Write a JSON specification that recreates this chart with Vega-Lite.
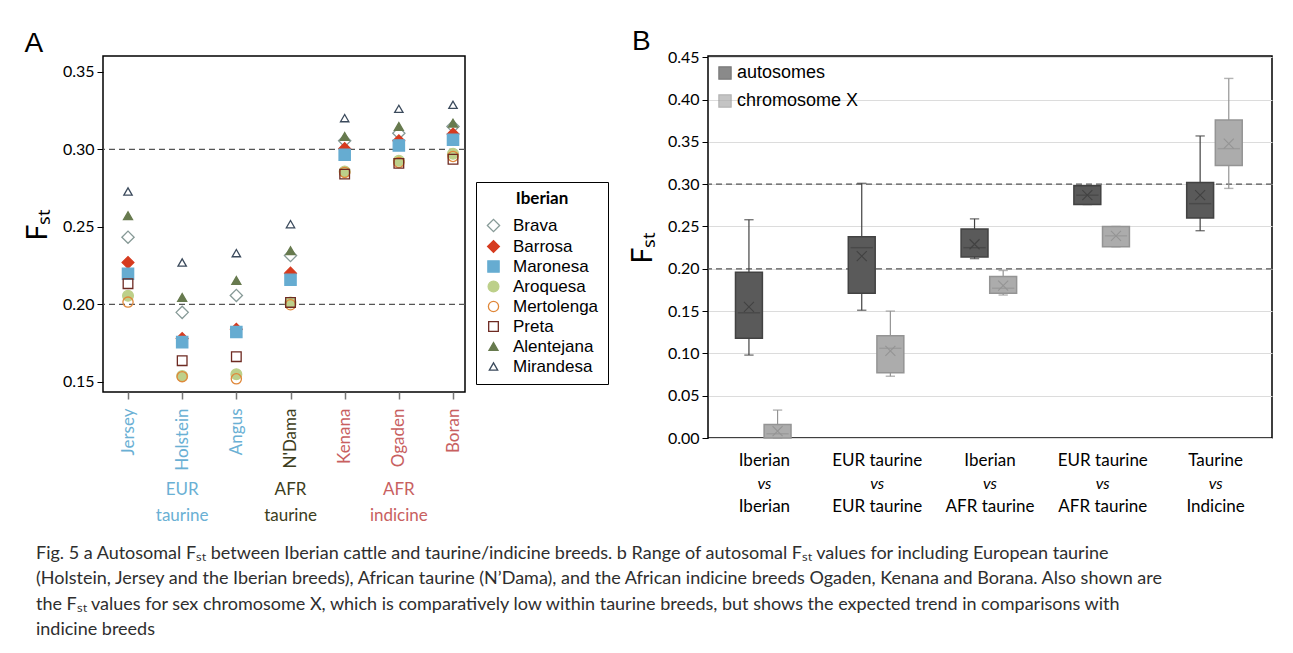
{
  "$schema": "https://vega.github.io/schema/vega-lite/v6.json",
  "background": "white",
  "padding": {"left": 23, "top": 27, "right": 5, "bottom": 5},
  "config": {
    "font": "Lato",
    "view": {"stroke": "black", "strokeWidth": 1.5},
    "axis": {"labelFont": "Lato", "labelFontSize": 16, "tickColor": "black", "domainColor": "black", "titleFont": "Lato", "titleFontWeight": "normal", "titleColor": "black"}
  },
  "datasets": {
    "scatter": [
      {"pop": "Jersey", "breed": "Brava", "fst": 0.2434}, {"pop": "Holstein", "breed": "Brava", "fst": 0.1949}, {"pop": "Angus", "breed": "Brava", "fst": 0.2058}, {"pop": "N'Dama", "breed": "Brava", "fst": 0.2316}, {"pop": "Kenana", "breed": "Brava", "fst": 0.3056}, {"pop": "Ogaden", "breed": "Brava", "fst": 0.3105}, {"pop": "Boran", "breed": "Brava", "fst": 0.3148},
      {"pop": "Jersey", "breed": "Barrosa", "fst": 0.2271}, {"pop": "Holstein", "breed": "Barrosa", "fst": 0.178}, {"pop": "Angus", "breed": "Barrosa", "fst": 0.184}, {"pop": "N'Dama", "breed": "Barrosa", "fst": 0.2202}, {"pop": "Kenana", "breed": "Barrosa", "fst": 0.3005}, {"pop": "Ogaden", "breed": "Barrosa", "fst": 0.3056}, {"pop": "Boran", "breed": "Barrosa", "fst": 0.3099},
      {"pop": "Jersey", "breed": "Maronesa", "fst": 0.2198}, {"pop": "Holstein", "breed": "Maronesa", "fst": 0.1757}, {"pop": "Angus", "breed": "Maronesa", "fst": 0.1822}, {"pop": "N'Dama", "breed": "Maronesa", "fst": 0.2159}, {"pop": "Kenana", "breed": "Maronesa", "fst": 0.2966}, {"pop": "Ogaden", "breed": "Maronesa", "fst": 0.3026}, {"pop": "Boran", "breed": "Maronesa", "fst": 0.3063},
      {"pop": "Jersey", "breed": "Aroquesa", "fst": 0.2056}, {"pop": "Holstein", "breed": "Aroquesa", "fst": 0.1538}, {"pop": "Angus", "breed": "Aroquesa", "fst": 0.155}, {"pop": "N'Dama", "breed": "Aroquesa", "fst": 0.2013}, {"pop": "Kenana", "breed": "Aroquesa", "fst": 0.2858}, {"pop": "Ogaden", "breed": "Aroquesa", "fst": 0.2927}, {"pop": "Boran", "breed": "Aroquesa", "fst": 0.2972},
      {"pop": "Jersey", "breed": "Mertolenga", "fst": 0.2015}, {"pop": "Holstein", "breed": "Mertolenga", "fst": 0.1534}, {"pop": "Angus", "breed": "Mertolenga", "fst": 0.152}, {"pop": "N'Dama", "breed": "Mertolenga", "fst": 0.1998}, {"pop": "Kenana", "breed": "Mertolenga", "fst": 0.2852}, {"pop": "Ogaden", "breed": "Mertolenga", "fst": 0.2916}, {"pop": "Boran", "breed": "Mertolenga", "fst": 0.2955},
      {"pop": "Jersey", "breed": "Preta", "fst": 0.2134}, {"pop": "Holstein", "breed": "Preta", "fst": 0.1637}, {"pop": "Angus", "breed": "Preta", "fst": 0.1663}, {"pop": "N'Dama", "breed": "Preta", "fst": 0.2013}, {"pop": "Kenana", "breed": "Preta", "fst": 0.2841}, {"pop": "Ogaden", "breed": "Preta", "fst": 0.291}, {"pop": "Boran", "breed": "Preta", "fst": 0.2937},
      {"pop": "Jersey", "breed": "Alentejana", "fst": 0.2572}, {"pop": "Holstein", "breed": "Alentejana", "fst": 0.2045}, {"pop": "Angus", "breed": "Alentejana", "fst": 0.2155}, {"pop": "N'Dama", "breed": "Alentejana", "fst": 0.2346}, {"pop": "Kenana", "breed": "Alentejana", "fst": 0.3084}, {"pop": "Ogaden", "breed": "Alentejana", "fst": 0.3148}, {"pop": "Boran", "breed": "Alentejana", "fst": 0.317},
      {"pop": "Jersey", "breed": "Mirandesa", "fst": 0.2729}, {"pop": "Holstein", "breed": "Mirandesa", "fst": 0.2271}, {"pop": "Angus", "breed": "Mirandesa", "fst": 0.2331}, {"pop": "N'Dama", "breed": "Mirandesa", "fst": 0.2518}, {"pop": "Kenana", "breed": "Mirandesa", "fst": 0.3202}, {"pop": "Ogaden", "breed": "Mirandesa", "fst": 0.3262}, {"pop": "Boran", "breed": "Mirandesa", "fst": 0.3288}
    ],
    "agrp": [
      {"pop": "Holstein", "line": 1, "label": "EUR", "grp": "eur"},
      {"pop": "Holstein", "line": 2, "label": "taurine", "grp": "eur"},
      {"pop": "N'Dama", "line": 1, "label": "AFR", "grp": "afrt"},
      {"pop": "N'Dama", "line": 2, "label": "taurine", "grp": "afrt"},
      {"pop": "Ogaden", "line": 1, "label": "AFR", "grp": "afri"},
      {"pop": "Ogaden", "line": 2, "label": "indicine", "grp": "afri"}
    ],
    "box": [
      {"comp": "Iberian vs Iberian", "type": "autosomes", "lo": 0.098, "q1": 0.118, "med": 0.148, "q3": 0.196, "hi": 0.258, "mean": 0.155},
      {"comp": "Iberian vs Iberian", "type": "chromosome X", "lo": 0.0, "q1": 0.0, "med": 0.005, "q3": 0.016, "hi": 0.033, "mean": 0.008},
      {"comp": "EUR taurine vs EUR taurine", "type": "autosomes", "lo": 0.151, "q1": 0.171, "med": 0.225, "q3": 0.238, "hi": 0.301, "mean": 0.215},
      {"comp": "EUR taurine vs EUR taurine", "type": "chromosome X", "lo": 0.073, "q1": 0.077, "med": 0.106, "q3": 0.121, "hi": 0.15, "mean": 0.103},
      {"comp": "Iberian vs AFR taurine", "type": "autosomes", "lo": 0.212, "q1": 0.214, "med": 0.225, "q3": 0.247, "hi": 0.259, "mean": 0.229},
      {"comp": "Iberian vs AFR taurine", "type": "chromosome X", "lo": 0.169, "q1": 0.171, "med": 0.177, "q3": 0.191, "hi": 0.198, "mean": 0.18},
      {"comp": "EUR taurine vs AFR taurine", "type": "autosomes", "lo": 0.276, "q1": 0.276, "med": 0.287, "q3": 0.298, "hi": 0.298, "mean": 0.287},
      {"comp": "EUR taurine vs AFR taurine", "type": "chromosome X", "lo": 0.226, "q1": 0.226, "med": 0.239, "q3": 0.25, "hi": 0.25, "mean": 0.239},
      {"comp": "Taurine vs Indicine", "type": "autosomes", "lo": 0.245, "q1": 0.26, "med": 0.277, "q3": 0.302, "hi": 0.357, "mean": 0.287},
      {"comp": "Taurine vs Indicine", "type": "chromosome X", "lo": 0.295, "q1": 0.322, "med": 0.342, "q3": 0.376, "hi": 0.425, "mean": 0.348}
    ],
    "blab": [
      {"comp": "Iberian vs Iberian", "line": 1, "label": "Iberian"}, {"comp": "Iberian vs Iberian", "line": 2, "label": "vs"}, {"comp": "Iberian vs Iberian", "line": 3, "label": "Iberian"},
      {"comp": "EUR taurine vs EUR taurine", "line": 1, "label": "EUR taurine"}, {"comp": "EUR taurine vs EUR taurine", "line": 2, "label": "vs"}, {"comp": "EUR taurine vs EUR taurine", "line": 3, "label": "EUR taurine"},
      {"comp": "Iberian vs AFR taurine", "line": 1, "label": "Iberian"}, {"comp": "Iberian vs AFR taurine", "line": 2, "label": "vs"}, {"comp": "Iberian vs AFR taurine", "line": 3, "label": "AFR taurine"},
      {"comp": "EUR taurine vs AFR taurine", "line": 1, "label": "EUR taurine"}, {"comp": "EUR taurine vs AFR taurine", "line": 2, "label": "vs"}, {"comp": "EUR taurine vs AFR taurine", "line": 3, "label": "AFR taurine"},
      {"comp": "Taurine vs Indicine", "line": 1, "label": "Taurine"}, {"comp": "Taurine vs Indicine", "line": 2, "label": "vs"}, {"comp": "Taurine vs Indicine", "line": 3, "label": "Indicine"}
    ]
  },
  "title": {
    "text": [
      "Fig. 5 a Autosomal F\u209b\u209c between Iberian cattle and taurine/indicine breeds. b Range of autosomal F\u209b\u209c values for including European taurine",
      "(Holstein, Jersey and the Iberian breeds), African taurine (N’Dama), and the African indicine breeds Ogaden, Kenana and Borana. Also shown are",
      "the F\u209b\u209c values for sex chromosome X, which is comparatively low within taurine breeds, but shows the expected trend in comparisons with",
      "indicine breeds"
    ],
    "orient": "bottom",
    "anchor": "start",
    "frame": "group",
    "font": "Lato",
    "fontSize": 18,
    "fontWeight": "normal",
    "color": "#2e2e2e",
    "lineHeight": 25.3,
    "offset": 16,
    "dx": -67
  },
  "resolve": {"scale": {"x": "independent", "y": "independent", "fill": "independent", "stroke": "independent", "color": "independent", "shape": "independent", "size": "independent"}},
  "vconcat": [
    {
      "hconcat": [
        {
          "spacing": 5,
          "resolve": {"scale": {"x": "independent", "y": "independent"}},
          "vconcat": [
            {
              "title": {"text": "A", "anchor": "start", "frame": "bounds", "fontSize": 28, "font": "Liberation Sans", "fontWeight": "normal", "offset": -2, "color": "black"},
              "width": 362,
              "height": 336,
              "layer": [
                {
                  "data": {"values": [{"ref": 0.2}, {"ref": 0.3}]},
                  "mark": {"type": "rule", "strokeDash": [6, 4], "color": "#555555", "strokeWidth": 1.3},
                  "encoding": {"y": {"field": "ref", "type": "quantitative",
                    "scale": {"domain": [0.1435, 0.3603], "nice": false, "zero": false},
                    "axis": {"values": [0.15, 0.2, 0.25, 0.3, 0.35], "format": ".2f", "grid": false, "title": "F\u209b\u209c", "titleFontSize": 28, "titlePadding": 10, "tickSize": 6, "labelPadding": 3, "domain": false, "labelColor": "black"}}}
                },
                {
                  "data": {"name": "scatter"},
                  "mark": {"type": "point", "filled": true, "strokeWidth": 1.3, "opacity": 1},
                  "encoding": {
                    "x": {
                      "field": "pop", "type": "nominal",
                      "scale": {"type": "point", "domain": ["Jersey", "Holstein", "Angus", "N'Dama", "Kenana", "Ogaden", "Boran"], "padding": 0.3415, "align": 0.676},
                      "axis": {"title": null, "labelAngle": -90, "labelFontSize": 17, "tickColor": "#777777", "tickWidth": 1.5, "tickSize": 7, "labelPadding": 9, "domain": false,
                        "labelColor": {"condition": [{"test": "indexof(datum.value, 'Dama') >= 0", "value": "#3d3d20"}, {"test": "datum.value == 'Jersey' || datum.value == 'Holstein' || datum.value == 'Angus'", "value": "#6ab0d4"}], "value": "#c8605f"}}
                    },
                    "y": {
                      "field": "fst", "type": "quantitative",
                      "axis": {"values": [0.15, 0.2, 0.25, 0.3, 0.35], "format": ".2f", "grid": false, "title": "F\u209b\u209c", "titleFontSize": 28, "titlePadding": 10, "tickSize": 6, "labelPadding": 3, "domain": false, "labelColor": "black"}
                    },
                    "shape": {"field": "breed", "type": "nominal",
                      "scale": {"domain": ["Brava", "Barrosa", "Maronesa", "Aroquesa", "Mertolenga", "Preta", "Alentejana", "Mirandesa"], "range": ["diamond", "diamond", "square", "circle", "circle", "square", "triangle-up", "triangle-up"]},
                      "legend": {"title": "Iberian", "orient": "none", "legendX": 373, "legendY": 126, "strokeColor": "black", "padding": 9, "titleFont": "Lato", "titleFontSize": 17, "titleFontWeight": "bold", "titleAnchor": "middle", "labelFont": "Liberation Sans", "labelFontSize": 17, "rowPadding": 2, "titlePadding": 9, "labelOffset": 11, "symbolStrokeWidth": 1.3}},
                    "fill": {"field": "breed", "type": "nominal",
                      "scale": {"domain": ["Brava", "Barrosa", "Maronesa", "Aroquesa", "Mertolenga", "Preta", "Alentejana", "Mirandesa"], "range": ["transparent", "#d63b1f", "#66acd1", "#bdd08a", "transparent", "transparent", "#677a4e", "transparent"]},
                      "legend": {"title": "Iberian", "orient": "none", "legendX": 373, "legendY": 126, "strokeColor": "black", "padding": 9, "titleFont": "Lato", "titleFontSize": 17, "titleFontWeight": "bold", "titleAnchor": "middle", "labelFont": "Liberation Sans", "labelFontSize": 17, "rowPadding": 2, "titlePadding": 9, "labelOffset": 11, "symbolStrokeWidth": 1.3}},
                    "stroke": {"field": "breed", "type": "nominal",
                      "scale": {"domain": ["Brava", "Barrosa", "Maronesa", "Aroquesa", "Mertolenga", "Preta", "Alentejana", "Mirandesa"], "range": ["#879a97", "#d63b1f", "#66acd1", "#bdd08a", "#e0883a", "#6e2a22", "#677a4e", "#3b4a5c"]},
                      "legend": {"title": "Iberian", "orient": "none", "legendX": 373, "legendY": 126, "strokeColor": "black", "padding": 9, "titleFont": "Lato", "titleFontSize": 17, "titleFontWeight": "bold", "titleAnchor": "middle", "labelFont": "Liberation Sans", "labelFontSize": 17, "rowPadding": 2, "titlePadding": 9, "labelOffset": 11, "symbolStrokeWidth": 1.3}},
                    "size": {"field": "breed", "type": "nominal",
                      "scale": {"domain": ["Brava", "Barrosa", "Maronesa", "Aroquesa", "Mertolenga", "Preta", "Alentejana", "Mirandesa"], "range": [150, 70, 100, 40, 36, 100, 125, 165]},
                      "legend": {"title": "Iberian", "orient": "none", "legendX": 373, "legendY": 126, "strokeColor": "black", "padding": 9, "titleFont": "Lato", "titleFontSize": 17, "titleFontWeight": "bold", "titleAnchor": "middle", "labelFont": "Liberation Sans", "labelFontSize": 17, "rowPadding": 2, "titlePadding": 9, "labelOffset": 11, "symbolStrokeWidth": 1.3}}
                  }
                }
              ]
            },
            {
              "width": 362,
              "height": 52,
              "view": {"stroke": null},
              "data": {"name": "agrp"},
              "mark": {"type": "text", "fontSize": 17, "font": "Lato"},
              "encoding": {
                "x": {"field": "pop", "type": "nominal", "scale": {"type": "point", "domain": ["Jersey", "Holstein", "Angus", "N'Dama", "Kenana", "Ogaden", "Boran"], "padding": 0.3415, "align": 0.676}, "axis": null},
                "y": {"field": "line", "type": "ordinal", "axis": null},
                "text": {"field": "label"},
                "color": {"field": "grp", "type": "nominal", "scale": {"domain": ["eur", "afrt", "afri"], "range": ["#6ab0d4", "#3d3d20", "#c8605f"]}, "legend": null}
              }
            }
          ]
        },
        {
          "spacing": 2,
          "resolve": {"scale": {"x": "independent", "y": "independent", "fill": "independent", "stroke": "independent"}, "legend": {"fill": "independent", "stroke": "independent"}},
          "vconcat": [
            {
              "title": {"text": "B", "anchor": "start", "frame": "group", "dx": -76, "fontSize": 28, "font": "Liberation Sans", "fontWeight": "normal", "offset": -7, "color": "black"},
              "width": 564,
              "height": 382,
              "data": {"name": "box"},
              "encoding": {
                "x": {"field": "comp", "type": "nominal", "scale": {"domain": ["Iberian vs Iberian", "EUR taurine vs EUR taurine", "Iberian vs AFR taurine", "EUR taurine vs AFR taurine", "Taurine vs Indicine"], "paddingInner": 0, "paddingOuter": 0}, "axis": null},
                "xOffset": {"field": "type", "type": "nominal", "scale": {"domain": ["autosomes", "chromosome X"], "paddingInner": 0.06, "paddingOuter": 1.48, "align": 0.48}}
              },
              "layer": [
                {
                  "data": {"values": [{"ref": 0.2}, {"ref": 0.3}]},
                  "mark": {"type": "rule", "strokeDash": [6, 4], "color": "#555555", "strokeWidth": 1.3},
                  "encoding": {
                    "x": null, "xOffset": null,
                    "y": {"field": "ref", "type": "quantitative", "scale": {"domain": [0, 0.4515], "nice": false}, "axis": {"values": [0, 0.05, 0.1, 0.15, 0.2, 0.25, 0.3, 0.35, 0.4, 0.45], "format": ".2f", "grid": true, "gridColor": "#dcdcdc", "gridWidth": 1.2, "title": "F\u209b\u209c", "titleFontSize": 28, "titlePadding": 10, "tickSize": 6, "labelPadding": 3, "domain": false, "labelColor": "black"}}
                  }
                },
                {
                  "mark": {"type": "rule", "strokeWidth": 1.2},
                  "encoding": {
                    "y": {"field": "lo", "type": "quantitative"},
                    "y2": {"field": "hi"},
                    "stroke": {"field": "type", "type": "nominal"}
                  }
                },
                {
                  "mark": {"type": "tick", "size": 8, "thickness": 0.1, "filled": false, "strokeWidth": 1.3},
                  "encoding": {
                    "y": {"field": "lo", "type": "quantitative"},
                    "stroke": {"field": "type", "type": "nominal"}
                  }
                },
                {
                  "mark": {"type": "tick", "size": 8, "thickness": 0.1, "filled": false, "strokeWidth": 1.3},
                  "encoding": {
                    "y": {"field": "hi", "type": "quantitative"},
                    "stroke": {"field": "type", "type": "nominal"}
                  }
                },
                {
                  "mark": {"type": "bar", "strokeWidth": 1.5},
                  "encoding": {
                    "y": {"field": "q1", "type": "quantitative"},
                    "y2": {"field": "q3"},
                    "fill": {"field": "type", "type": "nominal", "scale": {"domain": ["autosomes", "chromosome X"], "range": ["#5a5a5a", "#acacac"]},
                      "legend": {"title": null, "orient": "top-left", "offset": 6, "padding": 2, "symbolType": "square", "symbolSize": 150, "labelFont": "Liberation Sans", "labelFontSize": 18, "labelColor": "black", "rowPadding": 10, "labelOffset": 3, "symbolStrokeWidth": 1.2}},
                    "stroke": {"field": "type", "type": "nominal", "scale": {"domain": ["autosomes", "chromosome X"], "range": ["#424242", "#949494"]},
                      "legend": {"title": null, "orient": "top-left", "offset": 6, "padding": 2, "symbolType": "square", "symbolSize": 150, "labelFont": "Liberation Sans", "labelFontSize": 18, "labelColor": "black", "rowPadding": 10, "labelOffset": 3, "symbolStrokeWidth": 1.2}}
                  }
                },
                {
                  "mark": {"type": "tick", "size": 21, "thickness": 0.1, "filled": false, "strokeWidth": 1.3},
                  "encoding": {
                    "y": {"field": "med", "type": "quantitative"},
                    "stroke": {"field": "type", "type": "nominal"}
                  }
                },
                {
                  "mark": {"type": "point", "shape": "M-1,-1L1,1M-1,1L1,-1", "size": 100, "filled": false, "strokeWidth": 1.1, "opacity": 1},
                  "encoding": {
                    "y": {"field": "mean", "type": "quantitative"},
                    "stroke": {"field": "type", "type": "nominal"}
                  }
                }
              ]
            },
            {
              "width": 564,
              "height": 70,
              "view": {"stroke": null},
              "data": {"name": "blab"},
              "encoding": {
                "x": {"field": "comp", "type": "nominal", "scale": {"domain": ["Iberian vs Iberian", "EUR taurine vs EUR taurine", "Iberian vs AFR taurine", "EUR taurine vs AFR taurine", "Taurine vs Indicine"], "paddingInner": 0, "paddingOuter": 0}, "axis": null},
                "y": {"field": "line", "type": "ordinal", "scale": {"domain": [1, 2, 3]}, "axis": null},
                "text": {"field": "label"}
              },
              "layer": [
                {"transform": [{"filter": "datum.line != 2"}], "mark": {"type": "text", "fontSize": 17, "font": "Lato", "color": "black"}},
                {"transform": [{"filter": "datum.line == 2"}], "mark": {"type": "text", "fontSize": 16, "font": "Lato", "fontStyle": "italic", "color": "black"}}
              ]
            }
          ]
        }
      ],
      "spacing": 19,
      "resolve": {"scale": {"x": "independent", "y": "independent", "fill": "independent", "stroke": "independent", "color": "independent", "shape": "independent", "size": "independent"}}
    }
  ]
}
